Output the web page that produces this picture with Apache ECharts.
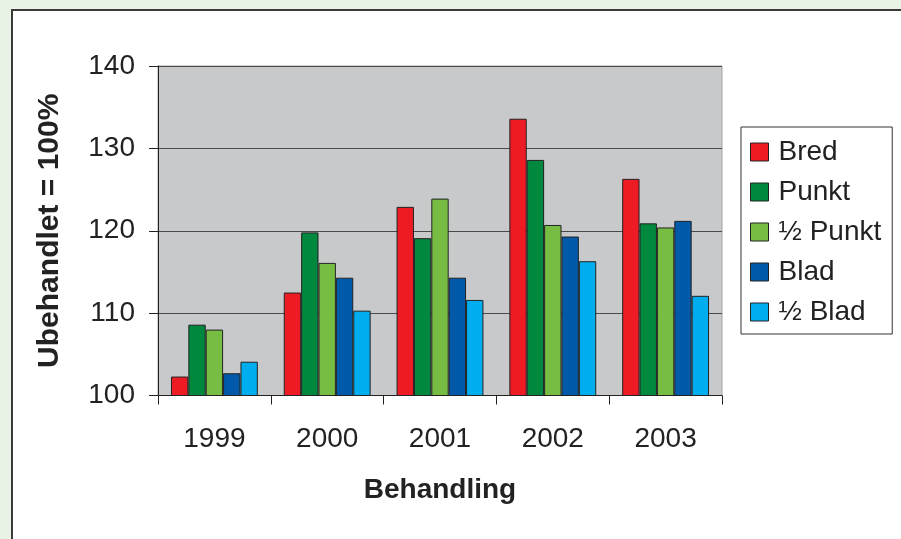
<!DOCTYPE html>
<html>
<head>
<meta charset="utf-8">
<script src="https://cdn.jsdelivr.net/npm/echarts@6/dist/echarts.min.js"></script>
<style>
  html, body { margin: 0; padding: 0; background: #e8f2e5; }
  #chart { width: 901px; height: 539px; }
</style>
</head>
<body>
<div id="chart"></div>
<script>
// Years on the category axis
const years = ['1999', '2000', '2001', '2002', '2003'];

// Yield relative to untreated (= 100 %) per treatment
const bred      = [102.3, 112.5, 122.9, 133.6, 126.3];
const punkt     = [108.6, 119.8, 119.1, 128.6, 120.9];
const halvPunkt = [108.0, 116.1, 123.9, 120.7, 120.4];
const blad      = [102.7, 114.3, 114.3, 119.3, 121.2];
const halvBlad  = [104.1, 110.3, 111.6, 116.3, 112.1];

const seriesNames = ['Bred', 'Punkt', '½ Punkt', 'Blad', '½ Blad'];
const seriesData = [bred, punkt, halvPunkt, blad, halvBlad];
const seriesColors = ['#ed1c24', '#00883e', '#77bd43', '#005aa9', '#00aeef'];

const yTicks = { min: 100, max: 140, interval: 10 };

const FONT = '"Liberation Sans", Arial, sans-serif';
const chart = echarts.init(document.getElementById('chart'));

chart.setOption({
  animation: false,
  textStyle: { fontFamily: FONT, color: '#222' },
  graphic: [{
    type: 'rect',
    z: -10,
    silent: true,
    shape: { x: 12, y: 10, width: 1000, height: 1000 },
    style: { fill: '#ffffff', stroke: '#3a3a3a', lineWidth: 2 }
  }],
  grid: {
    left: 158, right: 179, top: 66, bottom: 143.5,
    show: true, backgroundColor: '#c8c9cb', borderColor: '#a3a3a3', borderWidth: 1
  },
  legend: {
    orient: 'vertical',
    left: 741, top: 127,
    padding: [11, 11, 8, 9],
    itemGap: 12,
    itemWidth: 18, itemHeight: 18,
    borderColor: '#333', borderWidth: 1,
    backgroundColor: '#ffffff',
    icon: 'rect',
    itemStyle: { borderColor: '#222', borderWidth: 1 },
    textStyle: { fontSize: 28, color: '#222', fontFamily: FONT, padding: [0, 0, 0, 5] },
    data: seriesNames
  },
  xAxis: {
    type: 'category',
    data: years,
    name: 'Behandling',
    nameLocation: 'middle',
    nameGap: 81,
    nameTextStyle: { fontSize: 28, fontWeight: 'bold', color: '#222', fontFamily: FONT },
    axisLine: { lineStyle: { color: '#222', width: 1 } },
    axisTick: { show: true, length: 9, lineStyle: { color: '#222' } },
    axisLabel: { fontSize: 28, color: '#222', margin: 30, fontFamily: FONT },
    splitLine: { show: false }
  },
  yAxis: {
    type: 'value',
    min: yTicks.min, max: yTicks.max, interval: yTicks.interval,
    name: 'Ubehandlet = 100%',
    nameLocation: 'middle',
    nameGap: 93,
    nameRotate: 90,
    nameTextStyle: { fontSize: 30, fontWeight: 'bold', color: '#222', fontFamily: FONT },
    axisLine: { show: true, lineStyle: { color: '#222', width: 1 } },
    axisTick: { show: true, length: 9, lineStyle: { color: '#222' } },
    axisLabel: { fontSize: 28, color: '#222', margin: 23, fontFamily: FONT },
    splitLine: { show: true, lineStyle: { color: '#4a4a4a', width: 1 } }
  },
  series: seriesNames.map((name, i) => ({
    name,
    type: 'bar',
    data: seriesData[i],
    barGap: '0%',
    barCategoryGap: '23%',
    itemStyle: { color: seriesColors[i], borderColor: '#222', borderWidth: 1 }
  }))
});
</script>
</body>
</html>
